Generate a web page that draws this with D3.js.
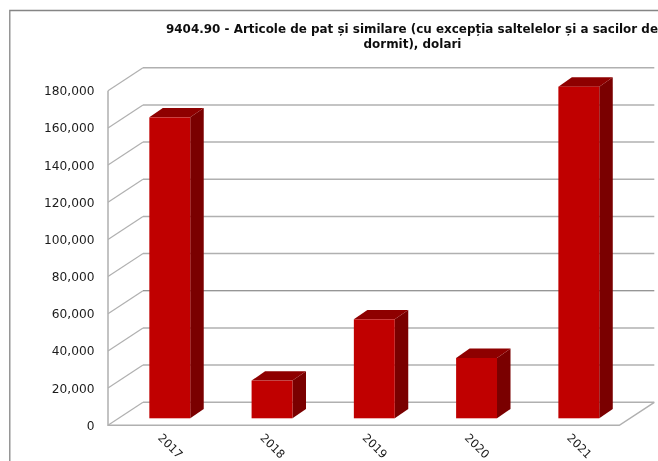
<!DOCTYPE html>
<html><head><meta charset="utf-8">
<script src="https://cdnjs.cloudflare.com/ajax/libs/d3/7.8.5/d3.min.js"></script>
<style>html,body{margin:0;padding:0;background:#fff}svg{display:block}</style>
</head><body><svg id="c" width="658" height="461"></svg>
<script>
const categories = ["2017","2018","2019","2020","2021"];
const values = [161900,20300,53250,32450,178400];
const yTicks = [0,20000,40000,60000,80000,100000,120000,140000,160000,180000];
const titleLines = ["9404.90 - Articole de pat și similare (cu excepția saltelelor și a sacilor de","dormit), dolari"];

const svg = d3.select("#c");
const W = 658, H = 461;
const frontLeft = 108, frontRight = 619.3, frontBase = 425.3, frontTop = 90.7;
const depthX = 35, depthY = -23;
const barDepthX = 13.5, barDepthY = -9.4;
const inset = 7;
const insetX = inset/(-depthY)*depthX;

svg.append("defs").append("filter").attr("id","soft")
 .attr("x",0).attr("y",0).attr("width","100%").attr("height","100%")
 .attr("filterUnits","userSpaceOnUse")
 .append("feGaussianBlur").attr("stdDeviation",0.35);
const root = svg.append("g").attr("filter","url(#soft)");
root.append("rect").attr("width",W).attr("height",H).attr("fill","#fff");

const y = d3.scaleLinear().domain([0,180000]).range([frontBase,frontTop]);
const x = d3.scaleBand().domain(categories).range([frontLeft+insetX, frontRight+insetX]).paddingInner(0.6).paddingOuter(0.3);
const grid = "#b0b0b0";

// frame
root.append("path").attr("d",`M9.8,${H+3}V10.5H${W+3}`).attr("fill","none").attr("stroke","#858585").attr("stroke-width",1.3);

// back wall gridlines
root.append("g").selectAll("line").data(yTicks).join("line")
 .attr("x1",frontLeft+depthX).attr("x2",frontRight+depthX)
 .attr("y1",d=>y(d)+depthY).attr("y2",d=>y(d)+depthY)
 .attr("stroke",d=>d===60000?"#707070":grid).attr("stroke-width",d=>d===60000?1:1.5);
// side wall
root.append("g").selectAll("line").data(yTicks).join("line")
 .attr("x1",frontLeft).attr("x2",frontLeft+depthX)
 .attr("y1",d=>y(d)).attr("y2",d=>y(d)+depthY)
 .attr("stroke",grid).attr("stroke-width",1.2);
// floor and left axis
root.append("path").attr("d",`M${frontLeft},${y(180000)}V${y(0)}H${frontRight}L${frontRight+depthX},${y(0)+depthY}`)
 .attr("fill","none").attr("stroke",grid).attr("stroke-width",1.5);

// bars
const barBase = y(0)-inset;
const bh = v => (y(0)-y(v));
const bars = root.append("g").selectAll("g").data(categories.map((c,i)=>({c,v:values[i]}))).join("g");
bars.append("path").attr("fill","#7a0000")
 .attr("d",d=>{const r=x(d.c)+x.bandwidth(),t=barBase-bh(d.v);
  return `M${r},${barBase}L${r+barDepthX},${barBase+barDepthY}V${t+barDepthY}L${r},${t}Z`;});
bars.append("path").attr("fill","#8e0000")
 .attr("d",d=>{const l=x(d.c),r=l+x.bandwidth(),t=barBase-bh(d.v);
  return `M${l},${t}L${l+barDepthX},${t+barDepthY}H${r+barDepthX}L${r},${t}Z`;});
bars.append("rect").attr("fill","#c00000")
 .attr("x",d=>x(d.c)).attr("width",x.bandwidth())
 .attr("y",d=>barBase-bh(d.v)).attr("height",d=>bh(d.v));

// y labels
const font = "'DejaVu Sans',sans-serif";
root.append("g").selectAll("text").data(yTicks).join("text")
 .attr("x",94.5).attr("y",d=>y(d)+4.5).attr("text-anchor","end")
 .attr("font-family",font).attr("font-size",12.2).attr("fill","#1a1a1a")
 .text(d3.format(","));
// x labels
root.append("g").selectAll("text").data(categories).join("text")
 .attr("transform",d=>`translate(${x(d)+x.bandwidth()/2-12.5},${438.5}) rotate(45)`)
 .attr("font-family",font).attr("font-size",11.5).attr("fill","#1a1a1a")
 .attr("x",0).attr("y",0).text(d=>d);
// title
root.append("g").selectAll("text").data(titleLines).join("text")
 .attr("x",(d,i)=>i===0?166:412.5).attr("y",(d,i)=>i===0?33:48)
 .attr("text-anchor",(d,i)=>i===0?"start":"middle")
 .attr("font-family",font).attr("font-size",11.95).attr("font-weight","bold").attr("fill","#111")
 .text(d=>d);
</script></body></html>
